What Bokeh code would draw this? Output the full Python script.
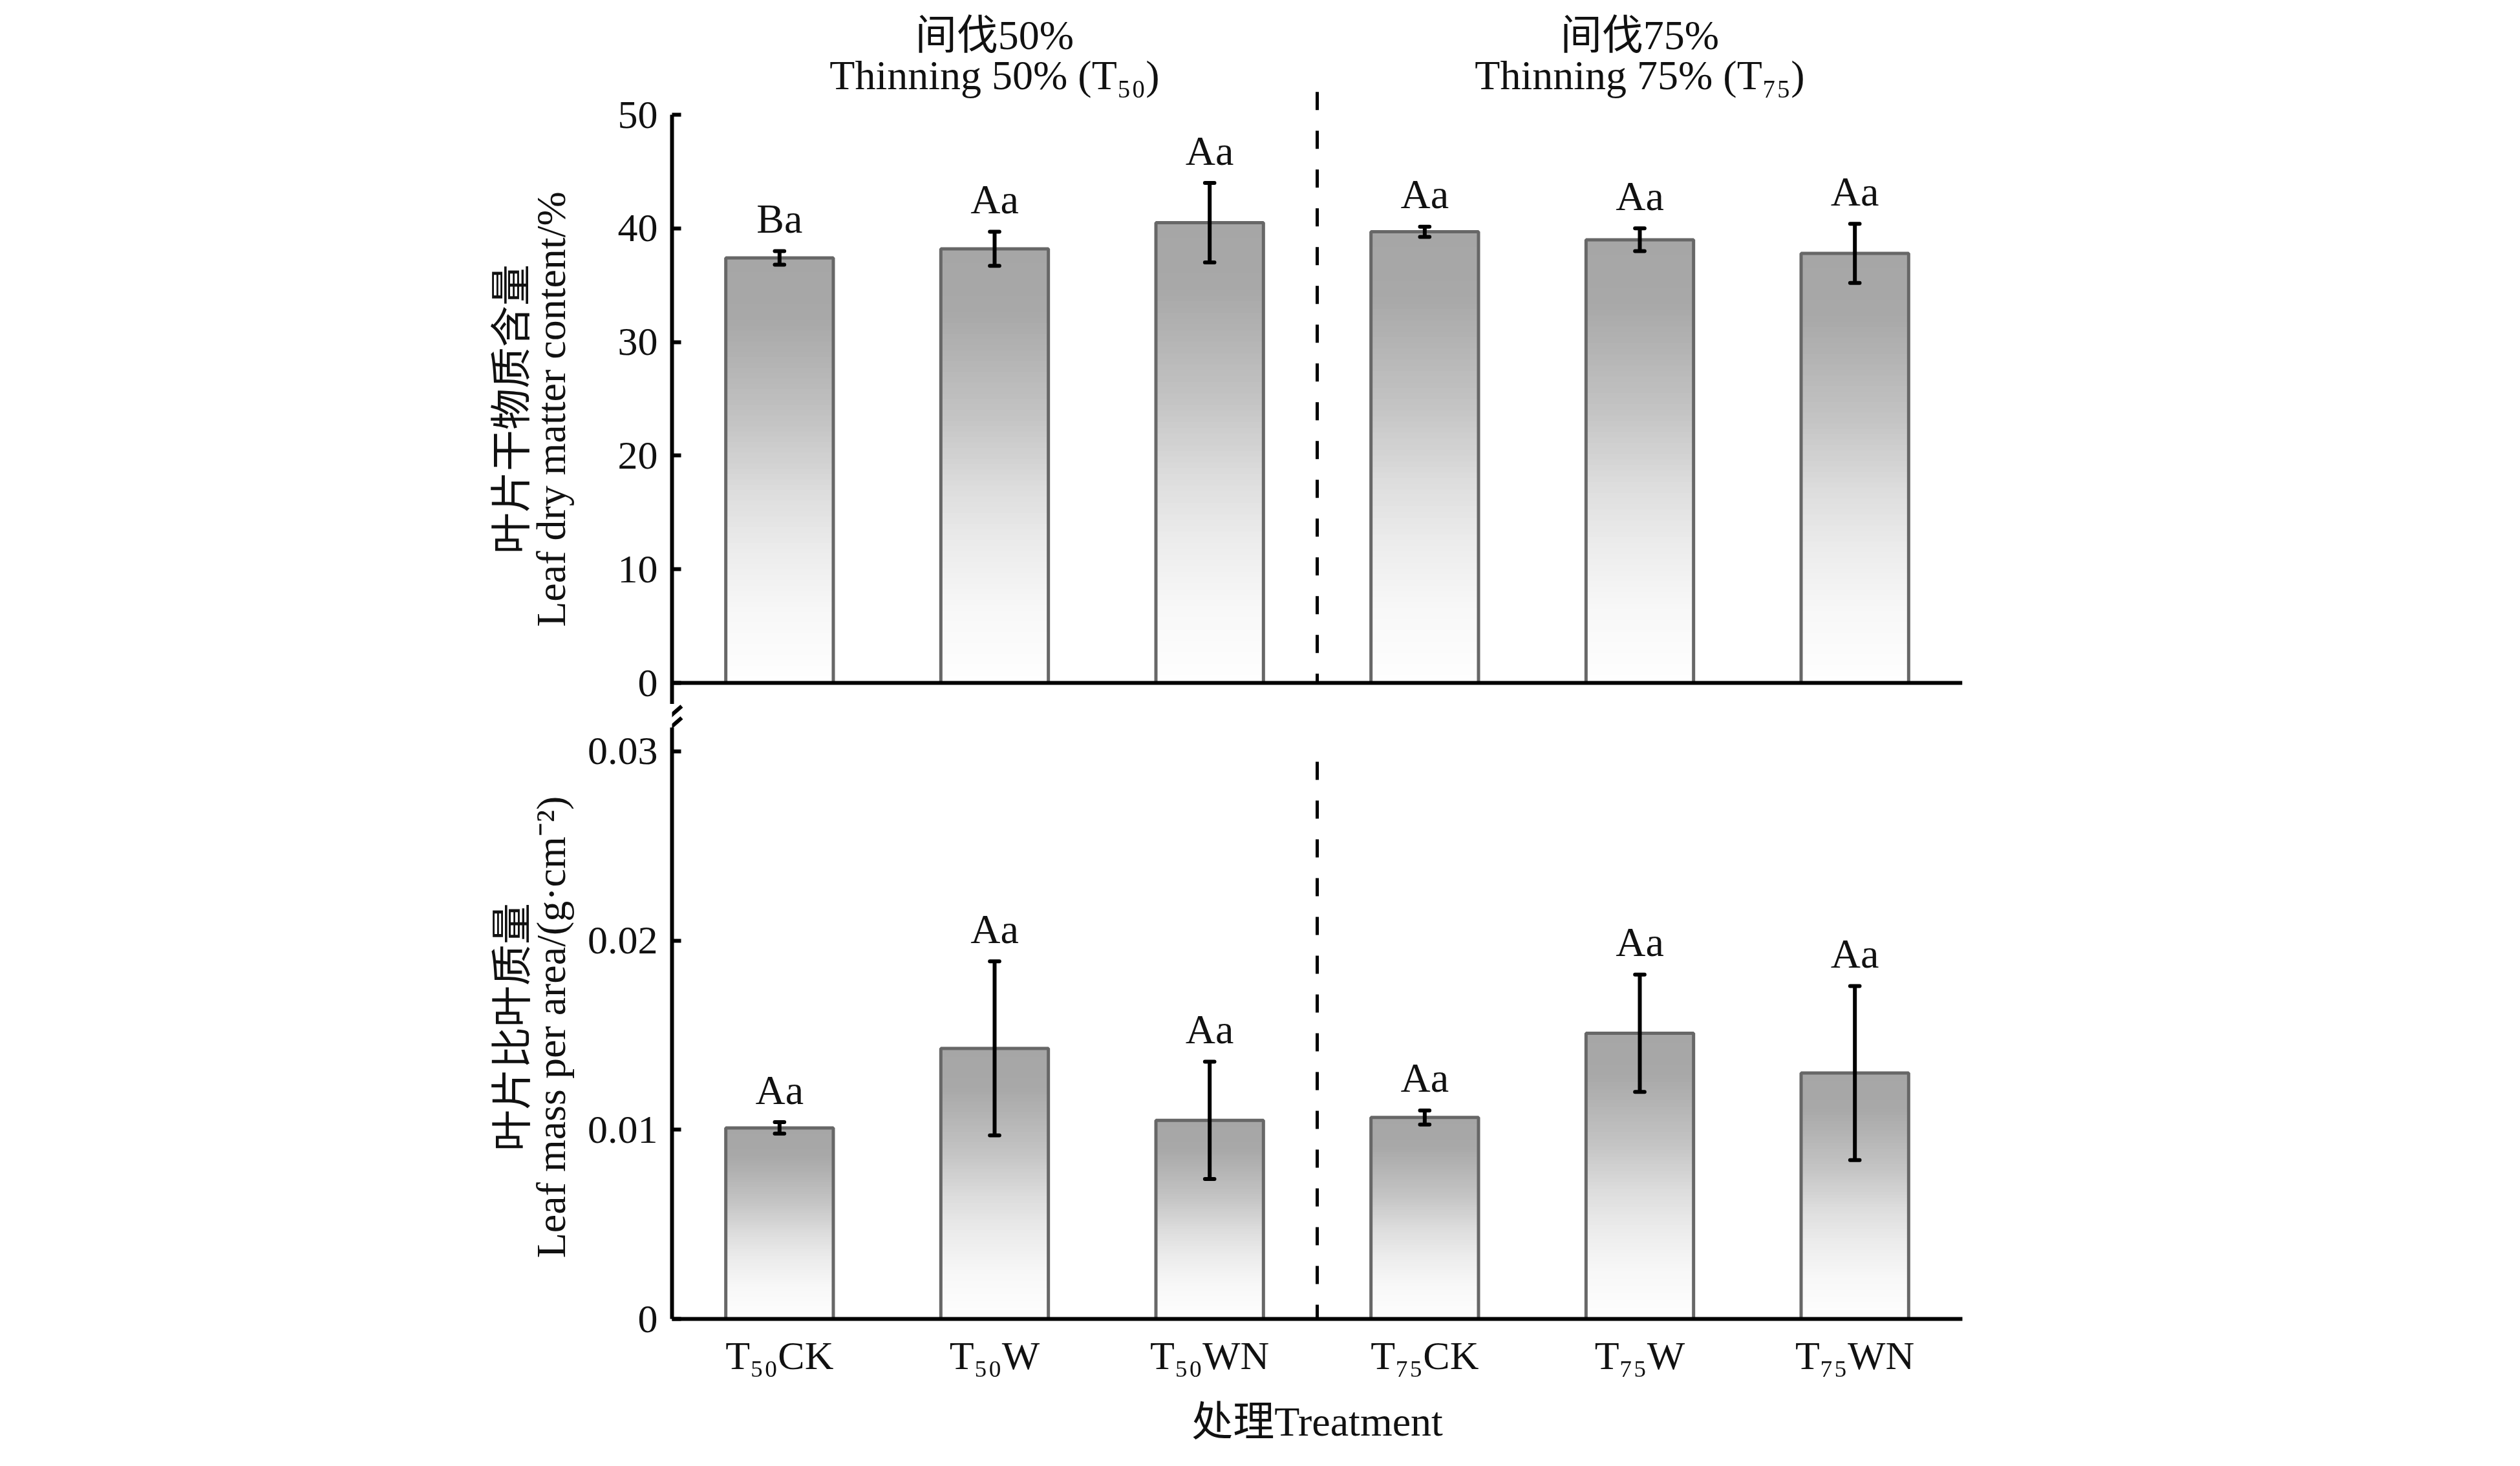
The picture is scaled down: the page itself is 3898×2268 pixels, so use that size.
import numpy as np
from bokeh.plotting import figure
from bokeh.models import Range1d, FixedTicker, ColumnDataSource, Arrow
from bokeh.layouts import column
from bokeh.embed import file_html
from bokeh.resources import INLINE
from bokeh.core.properties import value

# ---------------- data ----------------
categories = ["T\u2085\u2080CK", "T\u2085\u2080W", "T\u2085\u2080WN",
              "T\u2087\u2085CK", "T\u2087\u2085W", "T\u2087\u2085WN"]
group_cn = ["间伐50%", "间伐75%"]
group_en = ["Thinning 50% (T\u2085\u2080)", "Thinning 75% (T\u2087\u2085)"]
group_size = 3

ldmc = [37.4, 38.2, 40.5, 39.7, 39.0, 37.8]
ldmc_err = [0.6, 1.5, 3.5, 0.45, 1.0, 2.6]
ldmc_sig = ["Ba", "Aa", "Aa", "Aa", "Aa", "Aa"]

lma = [0.0101, 0.0143, 0.0105, 0.01065, 0.0151, 0.0130]
lma_err = [0.0003, 0.0046, 0.0031, 0.00037, 0.0031, 0.0046]
lma_sig = ["Aa", "Aa", "Aa", "Aa", "Aa", "Aa"]

ldmc_ticks = [0, 10, 20, 30, 40, 50]
lma_ticks = [0, 0.01, 0.02, 0.03]
lma_tick_labels = ["0", "0.01", "0.02", "0.03"]

ldmc_label = ["叶片干物质含量", "Leaf dry matter content/%"]
lma_label = ["叶片比叶质量", "Leaf mass per area/(g·cm\u207b\u00b2)"]
x_label = "处理Treatment"

# ---------------- style ----------------
SERIF = "'Liberation Serif', 'Noto Sans CJK SC'"
TXT = "#111111"
BAR_W = 0.5
N_SLICES = 80
grad_t = [0.0, 0.15, 0.40, 0.55, 0.70, 0.85, 1.0]
grad_g = [166, 168, 197, 220, 237, 248, 254]
SIG_GAP_PX = 50
NBSP = "\u00a0"

xs = np.arange(len(categories)) + 0.5
n_cat = len(categories)
split_x = float(group_size)

W = 3882
BORDER_L = 1039
FRAME_W = 1996
BORDER_R = W - BORDER_L - FRAME_W


def gradient_source(vals):
    d = dict(left=[], right=[], top=[], bottom=[], color=[])
    for x, v in zip(xs, vals):
        for k in range(N_SLICES):
            t0, t1 = k / N_SLICES, (k + 1) / N_SLICES
            g = int(round(np.interp((t0 + t1) / 2, grad_t, grad_g)))
            d["left"].append(x - BAR_W / 2)
            d["right"].append(x + BAR_W / 2)
            d["top"].append(v * (1 - t0) + (0 if k == 0 else v * 0.004))
            d["bottom"].append(v * (1 - t1))
            d["color"].append("#%02x%02x%02x" % (g, g, g))
    return ColumnDataSource(d)


def draw_bars(p, vals, errs, sigs, units_per_px):
    p.quad(left="left", right="right", top="top", bottom="bottom",
           fill_color="color", line_color=None, source=gradient_source(vals))
    hi = [v + e for v, e in zip(vals, errs)]
    src = ColumnDataSource(dict(x=xs, v=vals,
                                lo=[v - e for v, e in zip(vals, errs)],
                                hi=hi,
                                sy=[h + SIG_GAP_PX * units_per_px for h in hi],
                                cl=xs - 0.022, cr=xs + 0.022, sig=sigs))
    p.vbar(x="x", top="v", bottom=0, width=BAR_W, fill_color=None,
           line_color="#676767", line_width=5, source=src)
    p.segment(x0="x", y0="lo", x1="x", y1="hi", line_color="black",
              line_width=6, source=src)
    p.segment(x0="cl", y0="lo", x1="cr", y1="lo", line_color="black",
              line_width=6, line_cap="round", source=src)
    p.segment(x0="cl", y0="hi", x1="cr", y1="hi", line_color="black",
              line_width=6, line_cap="round", source=src)
    p.text(x="x", y="sy", text="sig", source=src,
           text_align="center", text_baseline="alphabetic",
           text_font=value(SERIF), text_font_size="64px", text_color=TXT)


def style_yaxis(ax, bounds, ticks):
    ax.bounds = bounds
    ax.ticker = FixedTicker(ticks=ticks)
    ax.axis_line_width = 6
    ax.axis_line_color = "black"
    ax.major_tick_line_width = 6
    ax.major_tick_line_color = "black"
    ax.major_tick_in = 14
    ax.major_tick_out = 0
    ax.minor_tick_in = 0
    ax.minor_tick_out = 0
    ax.major_label_standoff = 22
    ax.major_label_text_font = SERIF
    ax.major_label_text_font_size = "62px"
    ax.major_label_text_color = TXT
    ax.axis_label_text_font = SERIF
    ax.axis_label_text_font_size = "64px"
    ax.axis_label_text_font_style = "normal"
    ax.axis_label_text_color = TXT
    ax.axis_label_text_line_height = 0.85


def padded(lines, n):
    # trailing no-break spaces shift the centred rotated label downwards
    return "\n".join(l + NBSP * n for l in lines)


X_RANGE = (0, n_cat)

# ---------------- top panel ----------------
top_lo, top_hi = -1.877, 60.07
top_h = 1089
p1 = figure(width=W, height=top_h, x_range=Range1d(*X_RANGE),
            y_range=Range1d(top_lo, top_hi), output_backend="svg",
            toolbar_location=None, x_axis_location=None,
            min_border_left=BORDER_L, min_border_right=BORDER_R,
            min_border_top=0, min_border_bottom=0)
p1.grid.visible = False
p1.outline_line_color = None
p1.background_fill_color = "white"
p1.border_fill_color = "white"

draw_bars(p1, ldmc, ldmc_err, ldmc_sig, (top_hi - top_lo) / top_h)
# baseline (x axis line of upper panel)
p1.segment(x0=[0], y0=[0], x1=[n_cat], y1=[0], line_color="black", line_width=6)
# group separator
p1.segment(x0=[split_x], y0=[52.0], x1=[split_x], y1=[0], line_color="black",
           line_width=5, line_dash="28 32")
# group titles
gx = [group_size / 2, group_size + group_size / 2]
p1.text(x=gx, y=[57.0, 57.0], text=group_cn, text_align="center",
        text_baseline="alphabetic", text_font=value(SERIF),
        text_font_size="64px", text_color=TXT)
p1.text(x=gx, y=[53.45, 53.45], text=group_en, text_align="center",
        text_baseline="alphabetic", text_font=value(SERIF),
        text_font_size="64px", text_color=TXT)

ya1 = p1.yaxis[0]
style_yaxis(ya1, (top_lo, max(ldmc_ticks)), ldmc_ticks)
ya1.axis_label = padded(ldmc_label, 11)
ya1.axis_label_standoff = 65

# ---------------- bottom panel ----------------
bot_hi = 0.032494
bot_h = 1163
bot_border_b = 212
p2 = figure(width=W, height=bot_h, x_range=p1.x_range,
            y_range=Range1d(0, bot_hi), output_backend="svg",
            toolbar_location=None,
            min_border_left=BORDER_L, min_border_right=BORDER_R,
            min_border_top=0, min_border_bottom=bot_border_b)
p2.grid.visible = False
p2.outline_line_color = None
p2.background_fill_color = "white"
p2.border_fill_color = "white"

draw_bars(p2, lma, lma_err, lma_sig, bot_hi / (bot_h - bot_border_b))
p2.segment(x0=[split_x], y0=[0.02945], x1=[split_x], y1=[0], line_color="black",
           line_width=5, line_dash="28 32")
# axis break marks
for y0, y1 in [(0.03144, 0.03239), (0.03082, 0.03178)]:
    p2.add_layout(Arrow(start=None, end=None, x_start=-0.051, y_start=y0,
                        x_end=0.045, y_end=y1, line_color="black", line_width=6))

ya2 = p2.yaxis[0]
style_yaxis(ya2, (0, 0.03126), lma_ticks)
ya2.major_label_overrides = {t: s for t, s in zip(lma_ticks, lma_tick_labels)}
ya2.axis_label = padded(lma_label, 3)
ya2.axis_label_standoff = 18

xa = p2.xaxis[0]
xa.ticker = FixedTicker(ticks=list(xs))
xa.major_label_overrides = {float(x): c for x, c in zip(xs, categories)}
xa.axis_line_width = 6
xa.axis_line_color = "black"
xa.major_tick_in = 0
xa.major_tick_out = 0
xa.minor_tick_in = 0
xa.minor_tick_out = 0
xa.major_label_standoff = 22
xa.major_label_text_font = SERIF
xa.major_label_text_font_size = "62px"
xa.major_label_text_color = TXT
xa.axis_label = x_label
xa.axis_label_standoff = 30
xa.axis_label_text_font = SERIF
xa.axis_label_text_font_size = "64px"
xa.axis_label_text_font_style = "normal"
xa.axis_label_text_color = TXT

layout = column(p1, p2)
open("out.html", "w").write(file_html(layout, INLINE))
